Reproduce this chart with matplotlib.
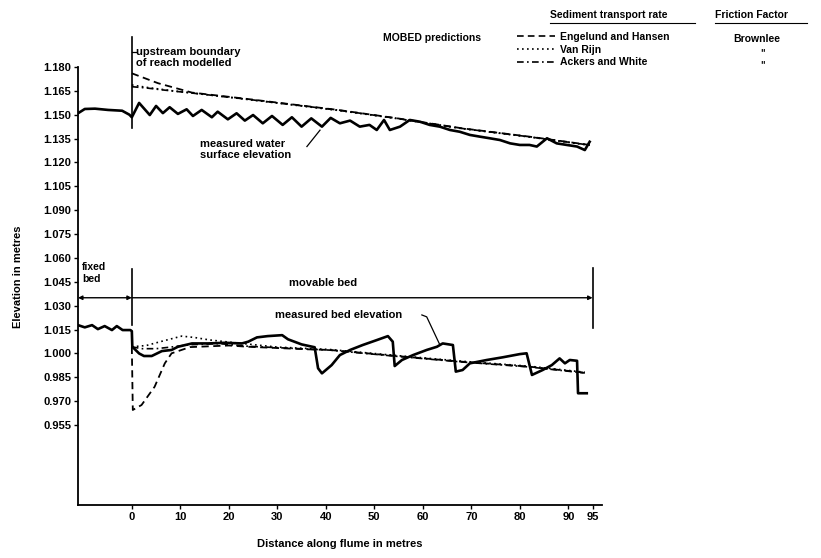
import matplotlib
matplotlib.use("Agg")
import matplotlib.pyplot as plt
from matplotlib.lines import Line2D

plt.rcParams["font.family"] = ["Liberation Sans", "DejaVu Sans"]
plt.rcParams["font.weight"] = "bold"
plt.rcParams["axes.labelweight"] = "bold"

# measured water surface elevation (m) along flume (m)
water_x = [-11.1, -9.7, -7.6, -4.9, -2.0, -0.5, 0.0, 1.5, 3.7, 5.0, 6.4, 7.8, 9.5,
           11.3, 12.6, 14.4, 16.5, 17.7, 19.8, 21.6, 23.3, 25.0, 27.0, 28.9, 31.1,
           33.0, 35.0, 37.0, 39.2, 41.0, 42.9, 45.0, 47.0, 49.0, 50.5, 52.0, 53.2,
           55.3, 57.3, 59.4, 61.4, 63.5, 65.6, 67.6, 69.7, 71.8, 73.8, 75.9, 78.0,
           80.0, 82.0, 83.5, 85.6, 87.6, 89.7, 91.8, 93.4, 94.4]
water_y = [1.1509, 1.1536, 1.1538, 1.1530, 1.1525, 1.1500, 1.1484, 1.1574, 1.1498,
           1.1555, 1.1510, 1.1547, 1.1505, 1.1534, 1.1492, 1.1530, 1.1484, 1.1519,
           1.1471, 1.1509, 1.1463, 1.1498, 1.1446, 1.1492, 1.1436, 1.1484, 1.1425,
           1.1477, 1.1425, 1.1480, 1.1446, 1.1463, 1.1425, 1.1436, 1.1404, 1.1467,
           1.1404, 1.1425, 1.1467, 1.1456, 1.1436, 1.1425, 1.1404, 1.1393, 1.1373,
           1.1362, 1.1352, 1.1341, 1.1320, 1.1310, 1.1310, 1.1300, 1.1352, 1.1320,
           1.1310, 1.1300, 1.1278, 1.1330]

# MOBED predicted water surface
eh_water_x = [0, 5.4, 12.4, 22.7, 42.5, 54.6, 68.0, 82.0, 94.4]
eh_water_y = [1.1760, 1.1698, 1.1639, 1.1603, 1.1530, 1.1478, 1.1415, 1.1362, 1.1310]
vr_water_x = [0, 3, 6, 9, 12.4, 22.7, 42.5, 54.6, 68.0, 82.0, 94.4]
vr_water_y = [1.1687, 1.1672, 1.1660, 1.1648, 1.1637, 1.1600, 1.1527, 1.1476, 1.1413, 1.1360, 1.1308]
aw_water_x = [0, 3, 6, 9, 12.4, 22.7, 42.5, 54.6, 68.0, 82.0, 94.4]
aw_water_y = [1.1676, 1.1668, 1.1657, 1.1647, 1.1636, 1.1601, 1.1529, 1.1477, 1.1414, 1.1361, 1.1309]

# measured bed elevation
bed_x = [-11.1, -9.7, -8.2, -7.0, -5.6, -4.1, -3.1, -1.9, -0.3, 0.0, 0.1, 1.5, 2.5,
         4.1, 6.2, 8.2, 9.5, 12.4, 15.7, 19.2, 22.7, 24.0, 25.8, 28.0, 31.0, 32.2,
         35.0, 37.7, 38.4, 39.2, 41.2, 42.9, 45.0, 47.6, 50.5, 52.8, 53.8, 54.2,
         55.7, 58.0, 60.8, 62.9, 64.1, 66.2, 66.8, 68.2, 69.7, 73.2, 76.5, 80.0,
         81.4, 82.0, 82.5, 84.7, 86.6, 88.2, 89.3, 90.3, 91.8, 92.0, 93.8]
bed_y = [1.0178, 1.0164, 1.0178, 1.0153, 1.0172, 1.0147, 1.0172, 1.0147, 1.0147,
         1.0140, 1.0042, 1.0000, 0.9984, 0.9984, 1.0015, 1.0022, 1.0042, 1.0063,
         1.0063, 1.0067, 1.0063, 1.0074, 1.0101, 1.0109, 1.0115, 1.0089, 1.0057,
         1.0039, 0.9907, 0.9875, 0.9927, 0.9990, 1.0022, 1.0053, 1.0084, 1.0109,
         1.0074, 0.9921, 0.9959, 0.9990, 1.0022, 1.0042, 1.0063, 1.0053, 0.9886,
         0.9896, 0.9938, 0.9959, 0.9976, 0.9996, 1.0001, 0.9927, 0.9865, 0.9896,
         0.9927, 0.9969, 0.9938, 0.9959, 0.9954, 0.9750, 0.9750]

# MOBED predicted bed
eh_bed_x = [0, 0.2, 2.0, 4.7, 6.8, 8.2, 12.0, 20.0, 24.0, 36.3, 40.8, 54.6, 68.2, 82.0, 93.4]
eh_bed_y = [1.0042, 0.9645, 0.9676, 0.9791, 0.9938, 1.0001, 1.0040, 1.0050, 1.0042,
            1.0026, 1.0022, 0.9984, 0.9948, 0.9917, 0.9879]
vr_bed_x = [0, 3, 6, 10.3, 13, 16, 22, 30, 40.8, 54.6, 68.2, 82.0, 93.4]
vr_bed_y = [1.0042, 1.0050, 1.0075, 1.0109, 1.0100, 1.0085, 1.0065, 1.0040, 1.0025,
            0.9987, 0.9951, 0.9920, 0.9882]
aw_bed_x = [0, 2, 5, 8, 12, 18, 24, 36, 40.8, 54.6, 68.2, 82.0, 93.4]
aw_bed_y = [1.0042, 1.0030, 1.0030, 1.0040, 1.0055, 1.0062, 1.0045, 1.0028, 1.0021,
            0.9982, 0.9946, 0.9915, 0.9877]

x_ticks = [0, 10, 20, 30, 40, 50, 60, 70, 80, 90, 95]
y_ticks = [1.180, 1.165, 1.150, 1.135, 1.120, 1.105, 1.090, 1.075, 1.060, 1.045,
           1.030, 1.015, 1.000, 0.985, 0.970, 0.955]
y_labels = ["1.180", "1.165", "1.150", "1.135", "1.120", "1.105", "1.090", "1.075",
            "1.060", "1.045", "1.030", "1.015", "1.000", "0.985", "0.970", "0.955"]

EH = (0, (4, 2.5))
VR = (0, (1, 2))
AW = (0, (4, 2, 1, 2))

fig = plt.figure(figsize=(8.21, 5.58), dpi=100)
ax = fig.add_axes([0.095, 0.095, 0.638, 0.785])

ax.plot(water_x, water_y, color="black", lw=1.9, solid_joinstyle="round")
ax.plot(bed_x, bed_y, color="black", lw=1.9, solid_joinstyle="round")
ax.plot(eh_water_x, eh_water_y, color="black", lw=1.3, linestyle=EH)
ax.plot(vr_water_x, vr_water_y, color="black", lw=1.2, linestyle=VR)
ax.plot(aw_water_x, aw_water_y, color="black", lw=1.2, linestyle=AW)
ax.plot(eh_bed_x, eh_bed_y, color="black", lw=1.3, linestyle=EH)
ax.plot(vr_bed_x, vr_bed_y, color="black", lw=1.2, linestyle=VR)
ax.plot(aw_bed_x, aw_bed_y, color="black", lw=1.2, linestyle=AW)

ax.set_xlim(-11.1, 96.9)
ax.set_ylim(0.9048, 1.180)

# upstream boundary and reach markers
ax.plot([0, 0], [1.1417, 1.199], color="black", lw=1.2, clip_on=False)
ax.plot([0, 0], [1.018, 1.053], color="black", lw=1.2)
ax.plot([95, 95], [1.016, 1.054], color="black", lw=1.2)
ax.annotate("", xy=(-11.1, 1.035), xytext=(0, 1.035),
            arrowprops=dict(arrowstyle="<|-|>", color="black", lw=1.0,
                            mutation_scale=6, shrinkA=0, shrinkB=0))
ax.annotate("", xy=(95, 1.035), xytext=(0, 1.035),
            arrowprops=dict(arrowstyle="-|>", color="black", lw=1.0,
                            mutation_scale=6, shrinkA=0, shrinkB=0))

ax.text(-10.3, 1.0505, "fixed\nbed", fontsize=7.5, va="center", linespacing=1.15)
ax.text(32.5, 1.0443, "movable bed", fontsize=8, va="center")
ax.text(29.5, 1.0242, "measured bed elevation", fontsize=8, va="center")
ax.plot([59.8, 60.8, 63.5], [1.0242, 1.0230, 1.0055], color="black", lw=0.9)

ax.text(0.9, 1.1857, "upstream boundary\nof reach modelled", fontsize=8,
        va="center", linespacing=1.1)
ax.plot([0, 0.8], [1.1892, 1.1892], color="black", lw=0.9, clip_on=False)
ax.text(14.0, 1.1282, "measured water\nsurface elevation", fontsize=8,
        va="center", linespacing=1.1)
ax.plot([36.1, 38.8], [1.1300, 1.1403], color="black", lw=0.9)

ax.set_xticks(x_ticks)
ax.set_xticklabels([str(v) for v in x_ticks], fontsize=8)
ax.set_yticks(y_ticks)
ax.set_yticklabels(y_labels, fontsize=8)
ax.tick_params(axis="both", length=3, width=1, pad=2)
ax.set_xlabel("Distance along flume in metres", fontsize=8, labelpad=12)
ax.set_ylabel("Elevation in metres", fontsize=8, labelpad=12)
ax.yaxis.set_label_coords(-0.105, 0.52)

for side in ["top", "right"]:
    ax.spines[side].set_visible(False)
ax.spines["left"].set_linewidth(1.3)
ax.spines["bottom"].set_linewidth(1.3)

# legend block
handles = [Line2D([], [], color="black", lw=1.2, linestyle=EH),
           Line2D([], [], color="black", lw=1.2, linestyle=VR),
           Line2D([], [], color="black", lw=1.2, linestyle=AW)]
labels = ["Engelund and Hansen", "Van Rijn", "Ackers and White"]
ax.legend(handles, labels, loc="upper left", bbox_to_anchor=(517 / 821, 1 - 32 / 558),
          bbox_transform=fig.transFigure, frameon=False, fontsize=7.5,
          handlelength=3.6, handletextpad=0.5, labelspacing=0.25,
          borderpad=0, borderaxespad=0)
fig.text(383 / 821, 1 - 38 / 558, "MOBED predictions", fontsize=7.5, va="center")
fig.text(550 / 821, 1 - 15 / 558, "Sediment transport rate", fontsize=7.5, va="center")
fig.text(715 / 821, 1 - 15 / 558, "Friction Factor", fontsize=7.5, va="center")
fig.add_artist(Line2D([550 / 821, 695 / 821], [1 - 23 / 558, 1 - 23 / 558],
                      color="black", lw=0.8))
fig.add_artist(Line2D([715 / 821, 807 / 821], [1 - 23 / 558, 1 - 23 / 558],
                      color="black", lw=0.8))
fig.text(733 / 821, 1 - 39 / 558, "Brownlee", fontsize=7.5, va="center")
fig.text(760 / 821, 1 - 53 / 558, '"', fontsize=7, va="center")
fig.text(760 / 821, 1 - 65 / 558, '"', fontsize=7, va="center")

fig.savefig("out.png", dpi=100)
